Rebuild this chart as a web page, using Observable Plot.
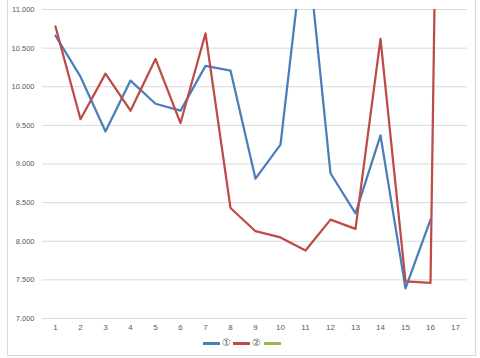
<!DOCTYPE html>
<html>
<head>
<meta charset="utf-8">
<script src="https://cdn.jsdelivr.net/npm/d3@7"></script>
<script src="https://cdn.jsdelivr.net/npm/@observablehq/plot@0.6"></script>
<style>
  html, body { margin: 0; padding: 0; background: #fff; }
  #wrap { position: relative; width: 480px; height: 358px; overflow: hidden; font-family: "Liberation Sans", "DejaVu Sans", sans-serif; }
  #frame { position: absolute; left: 7px; top: -2px; width: 467px; height: 356px; border: 1px solid #d9d9d9; pointer-events: none; }
  #legend { position: absolute; left: 0; top: 335px; width: 480px; height: 20px; }
  .item { position: absolute; top: 2px; height: 12px; font-size: 10px; line-height: 12px; color: #595959; display: flex; align-items: center; }
  .sw { display: inline-block; width: 17px; height: 3px; margin-right: 2px; }
</style>
</head>
<body>
<div id="wrap">
  <div id="chart"></div>
  <div id="legend"></div>
  <div id="frame"></div>
</div>
<script>
const categories = [1, 2, 3, 4, 5, 6, 7, 8, 9, 10, 11, 12, 13, 14, 15, 16, 17];
const series1 = [10.66, 10.13, 9.42, 10.08, 9.78, 9.69, 10.27, 10.21, 8.81, 9.25, 12.05, 8.88, 8.36, 9.37, 7.39, 8.28, null];
const series2 = [10.78, 9.58, 10.17, 9.69, 10.36, 9.53, 10.69, 8.43, 8.13, 8.05, 7.88, 8.28, 8.16, 10.62, 7.48, 7.46, 30];
const series3 = [];
const seriesNames = ["①", "②", ""];
const seriesColors = ["#4a7ebb", "#be4b48", "#98b954"];
const yTicks = [7, 7.5, 8, 8.5, 9, 9.5, 10, 10.5, 11];

const d1 = categories.map((c, i) => ({x: c, y: series1[i]})).filter(d => d.y != null);
const d2 = categories.map((c, i) => ({x: c, y: series2[i]})).filter(d => d.y != null);
const d3s = series3.map((v, i) => ({x: categories[i], y: v}));

const chart = Plot.plot({
  width: 480,
  height: 335,
  marginLeft: 42,
  marginRight: 13,
  marginTop: 9,
  marginBottom: 17,
  style: {fontFamily: "'Liberation Sans', 'DejaVu Sans', sans-serif", fontSize: "8px", color: "#595959", background: "transparent"},
  x: {type: "point", domain: categories, padding: 0.5, label: null},
  y: {domain: [7, 11], label: null},
  marks: [
    Plot.ruleY(yTicks, {stroke: "#d9d9d9", strokeWidth: 1}),
    Plot.axisY({ticks: yTicks, tickSize: 0, tickPadding: 8, tickFormat: d3.format(".3f"), fill: "#595959", fontSize: 7.5}),
    Plot.axisX({tickSize: 0, tickPadding: 6, fill: "#595959", fontSize: 8}),
    Plot.lineY(d1, {x: "x", y: "y", stroke: seriesColors[0], strokeWidth: 2.25, clip: true}),
    Plot.lineY(d2, {x: "x", y: "y", stroke: seriesColors[1], strokeWidth: 2.25, clip: true}),
    Plot.lineY(d3s, {x: "x", y: "y", stroke: seriesColors[2], strokeWidth: 2.25, clip: true})
  ]
});
document.getElementById("chart").appendChild(chart);

const legend = document.getElementById("legend");
const lefts = [203, 233, 264];
seriesNames.forEach((name, i) => {
  const it = document.createElement("div");
  it.className = "item";
  it.style.left = lefts[i] + "px";
  const sw = document.createElement("span");
  sw.className = "sw";
  sw.style.background = seriesColors[i];
  it.appendChild(sw);
  const t = document.createElement("span");
  t.textContent = name;
  it.appendChild(t);
  legend.appendChild(it);
});
</script>
</body>
</html>
